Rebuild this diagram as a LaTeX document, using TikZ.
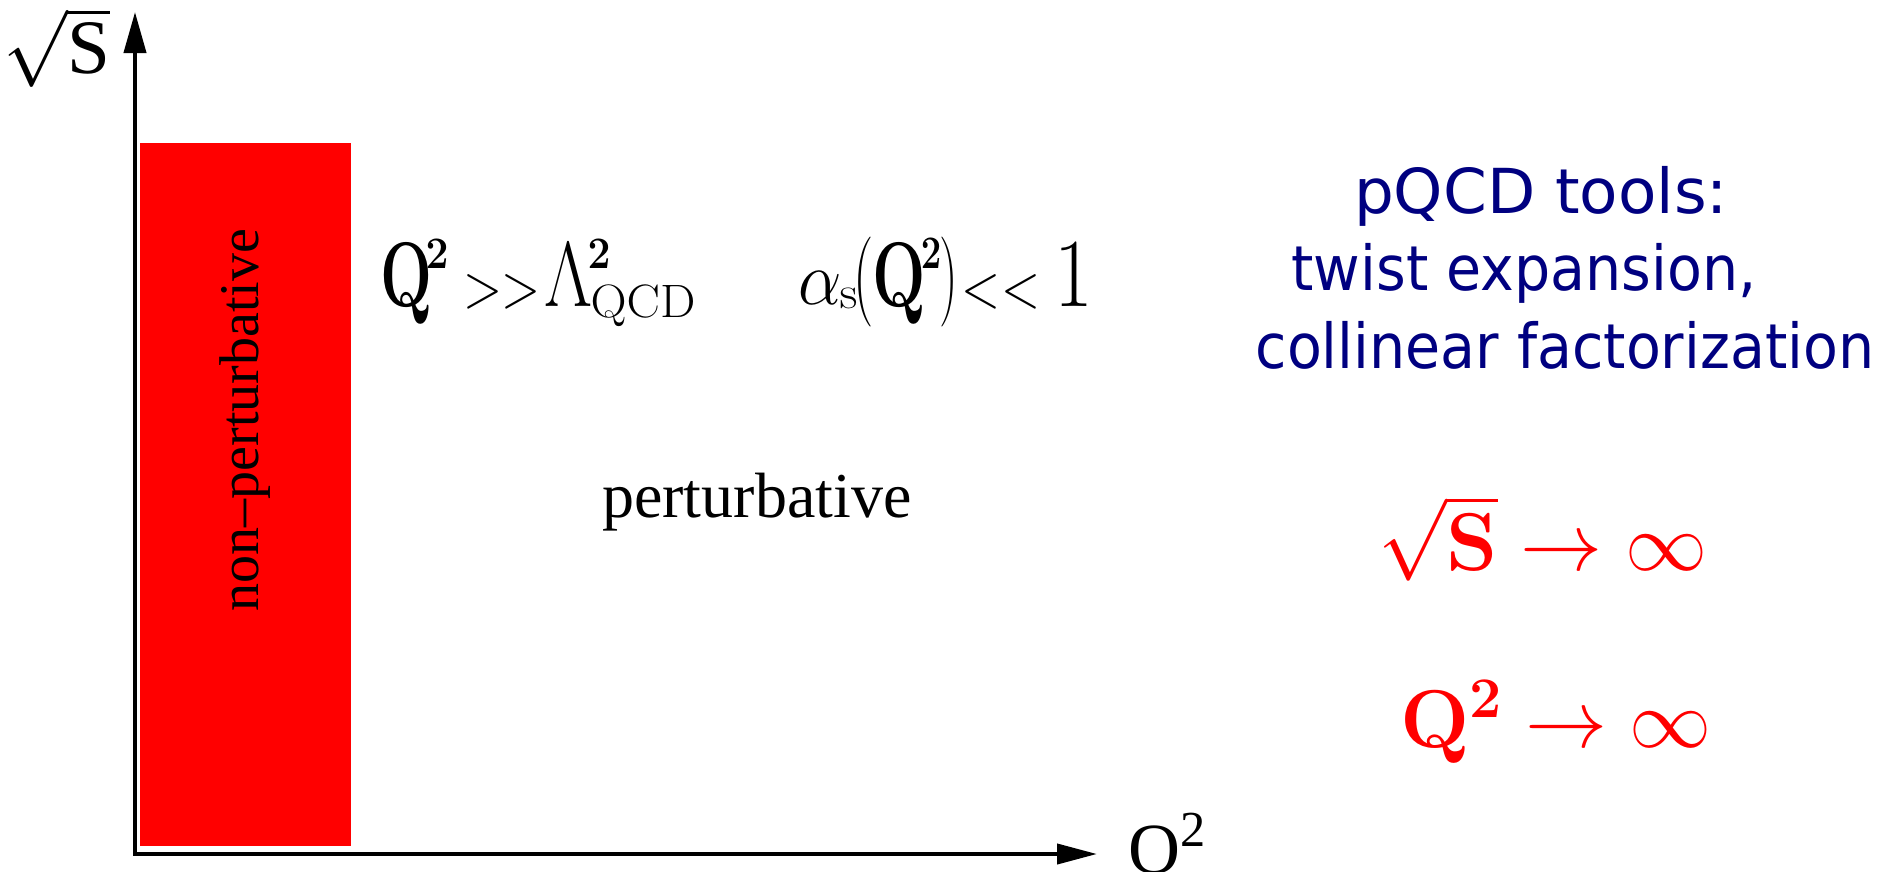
\RequirePackage{fix-cm}
\documentclass[tikz,border=0pt]{standalone}
\usepackage[no-math]{fontspec}
\usepackage{graphicx}
\setmainfont{Liberation Serif}
\newfontfamily\bluefont[FakeStretch=0.92]{DejaVu Sans}
\usetikzlibrary{arrows.meta}
\definecolor{navyblue}{RGB}{0,0,128}
\definecolor{purered}{RGB}{255,0,0}
% place a glyph: x offset, raise, box width, box height, content
\newcommand\glyphat[5]{\makebox[0pt][l]{\hspace*{#1pt}\raisebox{#2pt}{\resizebox{#3pt}{#4pt}{#5}}}}
\tikzset{
  axisline/.style={line width=4pt, line cap=butt, line join=miter},
  bluetext/.style={text=navyblue, inner sep=0pt, anchor=base, font=\bluefont\fontsize{62}{74}\selectfont},
  redmath/.style={text=purered, inner sep=0pt, anchor=base west, font=\fontsize{82}{95}\selectfont},
  blackmath/.style={inner sep=0pt, anchor=base west, font=\fontsize{90}{100}\selectfont},
  plain/.style={inner sep=0pt},
}
\begin{document}
\begin{tikzpicture}[x=1pt,y=-1pt]
\useasboundingbox (0,0) rectangle (1895,871);
\clip (0,0) rectangle (1895,871);
% red region
\node[plain, fill=purered, minimum width=211pt, minimum height=703pt, anchor=north west] (npbox) at (140,143) {};
\node[plain, rotate=90, anchor=base, font=\fontsize{56}{66}\selectfont] (nplabel) at (258,420) {non--perturbative};
% axes
\coordinate (origin) at (135,854);
\coordinate (ytip) at (135,12);
\coordinate (xtip) at (1097,854);
\draw[axisline, {Triangle[length=41pt,width=22pt]}-{Triangle[length=40pt,width=20pt]}] (ytip) -- (origin) -- (xtip);
% axis labels
\node[plain, anchor=base west, font=\fontsize{77}{90}\selectfont] (ylabel) at (3,73) {$\sqrt{\raisebox{0pt}[44pt][0pt]{S}}$};
\node[plain, anchor=base west, font=\fontsize{72}{90}\selectfont] (xlabel) at (1128,873) {O\textsuperscript{2}};
% formulas
\node[blackmath] (cond1) at (380,306) {%
\glyphat{0}{0}{52}{63}{$\mathbf{Q}$}%
\glyphat{45.3}{38}{23}{29}{$\mathbf{2}$}%
\glyphat{83}{-1}{39}{33}{$>$}%
\glyphat{121}{-1}{39}{33}{$>$}%
\glyphat{164}{0}{48}{63}{$\Lambda$}%
\glyphat{207.3}{38}{23}{29}{$\mathbf{2}$}%
\glyphat{210.5}{-11}{104.7}{32}{$\mathrm{QCD}$}%
\hspace*{315pt}};
\node[blackmath] (cond2) at (795,306) {%
\glyphat{3}{2}{43.4}{33}{$\alpha$}%
\glyphat{44.5}{-2}{17.9}{20}{$\mathrm{s}$}%
\glyphat{57.8}{1.5}{20.3}{67.5}{$($}%
\glyphat{77.1}{0}{53.4}{63}{$\mathbf{Q}$}%
\glyphat{125.6}{38}{20.5}{30}{$\mathbf{2}$}%
\glyphat{144.1}{1.5}{18.6}{67.5}{$)$}%
\glyphat{166}{-1}{39}{33}{$<$}%
\glyphat{206}{-1}{39}{33}{$<$}%
\glyphat{258.8}{0}{38.6}{63}{$1$}%
\hspace*{297pt}};
\node[plain, anchor=base west, font=\fontsize{64}{76}\selectfont] (pert) at (602,517) {perturbative};
% blue text
\node[bluetext] (tools1) at (1541,213) {\scalebox{1.1}[1]{pQCD tools:}};
\node[bluetext] (tools2) at (1524,290) {twist expansion,};
\node[bluetext] (tools3) at (1565,368) {collinear factorization};
% red limits
\node[redmath] (lim1) at (1378,570) {$\sqrt{\mathbf{S}}\rightarrow\infty$};
\node[redmath] (lim2) at (1400,747) {$\mathbf{Q}^{\mathbf{2}}\rightarrow\infty$};
\end{tikzpicture}
\end{document}
